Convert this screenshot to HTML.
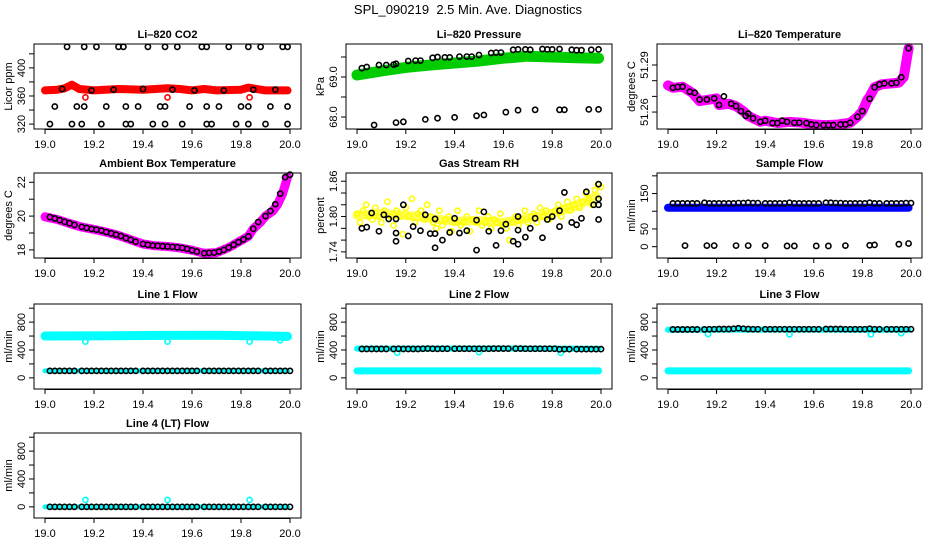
<!DOCTYPE html>
<html><head><meta charset="utf-8"><style>
html,body{margin:0;padding:0;background:#fff;}
svg{display:block;font-family:"Liberation Sans",Arial,sans-serif;}
</style></head><body>
<svg id="chart" width="936" height="540" viewBox="0 0 936 540" xmlns="http://www.w3.org/2000/svg">
<rect x="0" y="0" width="936" height="540" fill="#fff"/>
<text x="468" y="14" text-anchor="middle" font-size="13" style="white-space:pre" xml:space="preserve">SPL_090219  2.5 Min. Ave. Diagnostics</text>
</svg>
<script>
// ---------- shared x ticks ----------
const xTicks = [19.0, 19.2, 19.4, 19.6, 19.8, 20.0];
const T48 = [19.02,19.04,19.06,19.08,19.10,19.12,19.15,19.17,19.19,19.21,19.23,19.25,19.27,19.29,19.31,19.33,19.35,19.37,19.40,19.42,19.44,19.46,19.48,19.50,19.52,19.54,19.56,19.58,19.60,19.62,19.65,19.67,19.69,19.71,19.73,19.75,19.77,19.79,19.81,19.83,19.85,19.87,19.90,19.92,19.94,19.96,19.98,20.00];

// ---------- CO2 ----------
const co2TrendT = [19.0,19.05,19.08,19.11,19.14,19.2,19.3,19.4,19.5,19.55,19.6,19.65,19.7,19.8,19.83,19.9,19.99];
const co2TrendV = [368,369,371,376,370,368,370,369,371,370,368,370,368,369,372,368,368];
const co2BlackT = [19.09,19.16,19.21,19.30,19.32,19.42,19.49,19.54,19.64,19.66,19.75,19.83,19.88,19.97,19.99,
  19.04,19.13,19.16,19.25,19.33,19.38,19.47,19.49,19.59,19.66,19.71,19.80,19.83,19.92,19.99,
  19.02,19.11,19.15,19.23,19.33,19.35,19.44,19.49,19.56,19.66,19.68,19.78,19.83,19.90,19.99,
  19.07,19.19,19.28,19.40,19.52,19.61,19.73,19.85,19.94];
const co2BlackV = [430,430,430,430,430,430,430,430,430,430,430,430,430,430,430,
  345,345,345,345,345,345,345,345,345,345,345,345,345,345,345,
  320,320,320,320,320,320,320,320,320,320,320,320,320,320,320,
  370,368,369,370,369,368,368,369,369];
const co2OutT = [19.165,19.5,19.835];
const co2OutV = [358,358,358];

// ---------- Pressure ----------
const prTrendT = [19.0,19.1,19.2,19.3,19.4,19.5,19.6,19.7,19.8,19.9,19.99];
const prTrendV = [69.05,69.15,69.24,69.3,69.35,69.4,69.47,69.52,69.5,69.48,69.47];
const prBlackT = [19.02,19.04,19.09,19.12,19.15,19.16,19.21,19.24,19.26,19.31,19.33,19.36,19.38,19.42,19.45,19.47,19.50,19.55,19.57,19.59,19.64,19.66,19.69,19.71,19.76,19.78,19.80,19.83,19.88,19.90,19.92,19.96,19.99,
  19.07,19.16,19.19,19.28,19.33,19.40,19.49,19.52,19.61,19.66,19.73,19.83,19.85,19.95,19.99];
const prBlackV = [69.22,69.25,69.3,69.3,69.31,69.33,69.4,69.41,69.41,69.48,69.5,69.49,69.49,69.51,69.51,69.51,69.55,69.6,69.61,69.61,69.68,69.69,69.69,69.68,69.7,69.69,69.69,69.7,69.68,69.67,69.67,69.68,69.69,
  67.8,67.86,67.88,67.94,67.97,67.99,68.03,68.05,68.12,68.17,68.18,68.18,68.18,68.19,68.19];

// ---------- Li-820 temperature ----------
const ltT = [19.0,19.02,19.06,19.1,19.13,19.2,19.21,19.25,19.28,19.31,19.33,19.35,19.38,19.4,19.45,19.5,19.55,19.6,19.65,19.7,19.75,19.78,19.8,19.82,19.83,19.85,19.88,19.92,19.95,19.97,19.99];
const ltV = [51.277,51.2755,51.2762,51.2723,51.267,51.2687,51.2645,51.2653,51.2638,51.2606,51.2576,51.256,51.2538,51.2545,51.253,51.2538,51.2532,51.2521,51.2517,51.2521,51.2532,51.257,51.2606,51.2677,51.2698,51.2758,51.2777,51.2783,51.2787,51.2822,51.3007];
const ltBlackT = [19.02,19.04,19.06,19.09,19.11,19.13,19.16,19.19,19.21,19.23,19.26,19.28,19.30,19.32,19.33,19.35,19.38,19.40,19.43,19.45,19.47,19.49,19.52,19.54,19.57,19.59,19.61,19.64,19.66,19.68,19.71,19.73,19.75,19.78,19.80,19.83,19.85,19.87,19.89,19.92,19.94,19.96,19.99];
const ltBlackV = [51.2755,51.276,51.2762,51.273,51.2723,51.268,51.268,51.2687,51.2645,51.27,51.2653,51.2638,51.2606,51.2576,51.259,51.256,51.2538,51.2545,51.253,51.253,51.2545,51.2538,51.2532,51.2532,51.253,51.2521,51.2517,51.2517,51.2517,51.2517,51.2521,51.2521,51.2532,51.257,51.2606,51.2685,51.2758,51.2777,51.2783,51.2783,51.2787,51.2822,51.3007];

// ---------- Ambient box temperature ----------
const abT = [19.0,19.05,19.1,19.15,19.2,19.25,19.3,19.35,19.4,19.45,19.5,19.55,19.6,19.65,19.7,19.75,19.8,19.83,19.85,19.88,19.9,19.93,19.95,19.97,19.99];
const abV = [19.96,19.8,19.56,19.35,19.21,19.05,18.85,18.6,18.35,18.24,18.2,18.12,17.98,17.8,17.84,18.14,18.55,18.8,19.25,19.65,20.0,20.3,20.7,21.33,22.3];
const abBlackT = [19.02,19.04,19.06,19.08,19.10,19.12,19.15,19.17,19.19,19.21,19.23,19.25,19.27,19.29,19.31,19.33,19.35,19.37,19.40,19.42,19.44,19.46,19.48,19.50,19.52,19.54,19.56,19.58,19.60,19.62,19.65,19.67,19.69,19.71,19.73,19.75,19.77,19.79,19.81,19.83,19.85,19.87,19.90,19.92,19.94,19.96,19.98,20.00];
const abBlackV = [19.94,19.86,19.76,19.66,19.58,19.48,19.36,19.3,19.24,19.2,19.14,19.06,18.98,18.9,18.82,18.7,18.6,18.48,18.35,18.3,18.26,18.24,18.22,18.2,18.18,18.15,18.12,18.06,17.98,17.9,17.8,17.82,17.84,17.9,18.0,18.14,18.3,18.46,18.62,18.8,19.25,19.65,20.0,20.3,20.7,21.33,22.3,22.45];

// ---------- Gas stream RH ----------
const rhStart = 19.0;
const rhStep = 0.0125;
const rhV = [1.805,1.79,1.81,1.82,1.80,1.795,1.815,1.80,1.79,1.81,1.825,1.80,1.785,1.81,1.80,1.77,1.815,1.80,1.83,1.79,1.805,1.81,1.795,1.82,1.80,
  1.79,1.78,1.81,1.785,1.795,1.80,1.775,1.79,1.81,1.785,1.79,1.80,1.775,1.795,1.79,1.81,1.785,1.79,1.80,1.78,1.795,1.79,1.805,1.785,
  1.78,1.76,1.79,1.80,1.785,1.795,1.81,1.79,1.80,1.805,1.79,1.815,1.80,1.81,1.795,1.80,
  1.81,1.82,1.80,1.815,1.825,1.81,1.82,1.83,1.815,1.825,1.84,1.83,1.82,1.845,1.855,1.85];
const rhTrendT = [19.0,19.1,19.2,19.3,19.4,19.5,19.6,19.7,19.8,19.9,19.98];
const rhTrendV = [1.802,1.805,1.802,1.797,1.792,1.793,1.79,1.797,1.805,1.818,1.835];
const rhBlackT = [19.02,19.04,19.06,19.09,19.11,19.13,19.16,19.16,19.16,19.19,19.21,19.23,19.26,19.28,19.30,19.32,19.32,19.32,19.35,19.38,19.40,19.42,19.45,
  19.49,19.49,19.52,19.54,19.57,19.59,19.61,19.64,19.66,19.66,19.66,19.69,19.71,19.73,19.76,19.78,19.80,19.83,19.83,19.85,19.88,19.90,19.92,19.94,19.97,19.99,19.99,19.99,19.99];
const rhBlackV = [1.78,1.782,1.806,1.775,1.803,1.796,1.796,1.772,1.758,1.82,1.767,1.783,1.776,1.803,1.771,1.796,1.771,1.747,1.76,1.773,1.797,1.772,1.776,
  1.794,1.743,1.808,1.775,1.751,1.776,1.787,1.758,1.777,1.753,1.800,1.765,1.78,1.797,1.764,1.795,1.80,1.81,1.783,1.841,1.79,1.786,1.797,1.842,1.82,1.82,1.855,1.83,1.795];

// ---------- Sample flow ----------
const sfTrendT = [19.0,19.25,19.5,19.75,19.99];
const sfTrendV = [110,110,110,110,110];
const sfBlackV = [122,122,122,122,122,122,124,122,122,122,122,122,122,123,123,124,123,123,122,122,122,122,122,124,122,122,122,122,122,122,124,124,123,123,122,122,122,122,122,124,122,122,122,122,122,122,123,123];
const sfLowT = [19.07,19.16,19.19,19.28,19.33,19.40,19.49,19.52,19.61,19.66,19.73,19.83,19.85,19.95,19.99];
const sfLowV = [3,3,3,3,3,3,2,2,2,2,3,4,5,7,9];

// ---------- Line flows ----------
const l1BandT = [19.0,19.3,19.5,19.7,19.9,19.99];
const l1BandV = [600,605,610,612,600,595];
const l1LowT = [19.0,19.5,19.99];
const l1LowV = [100,100,100];
const l1BlackV = [100,100,100,100,100,100,100,100,100,100,100,100,100,100,100,100,100,100,100,100,100,100,100,100,100,100,100,100,100,100,100,100,100,100,100,100,100,100,100,100,100,100,100,100,100,100,100,100];
const l1OutT = [19.165,19.5,19.835,19.96];
const l1OutV = [520,520,520,540];

const l2BandT = [19.0,19.5,19.99];
const l2BandV = [420,422,418];
const l2LowV = [100,100,100];
const l2BlackV = [415,415,415,415,415,415,415,418,415,415,415,415,418,420,418,416,418,418,418,418,418,418,418,418,418,418,420,420,420,420,420,420,418,418,418,418,418,418,418,410,412,412,412,412,412,412,412,412];
const l2OutT = [19.165,19.5,19.835];
const l2OutV = [360,370,360];

const l3BandT = [19.0,19.5,19.99];
const l3BandV = [690,692,690];
const l3LowV = [100,100,100];
const l3BlackV = [695,695,695,695,695,695,695,698,698,700,700,700,705,712,705,700,698,698,698,698,698,698,698,698,698,698,698,698,698,698,700,700,700,700,698,698,698,698,698,705,698,698,698,698,698,698,698,698];
const l3OutT = [19.165,19.5,19.835,19.96];
const l3OutV = [630,625,625,640];

const l4BandV = [0,0,0];
const l4BlackV = [0,0,0,0,0,0,0,0,0,0,0,0,0,0,0,0,0,0,0,0,0,0,0,0,0,0,0,0,0,0,0,0,0,0,0,0,0,0,0,0,0,0,0,0,0,0,0,0];
const l4OutT = [19.165,19.5,19.835];
const l4OutV = [100,100,100];

const flowTicks = [0,200,400,600,800,1000];
const flowLabels = ['0','','400','','800',''];

// ---------- drawing ----------
const NS = 'http://www.w3.org/2000/svg';
const svg = document.getElementById('chart');
const colLeft = [34, 346, 657];
const colWidth = [267, 266, 265];
const rowTop = [44, 173, 304, 433];
const boxH = 85;

function mk(tag, attrs, parent) {
  const e = document.createElementNS(NS, tag);
  for (const k in attrs) e.setAttribute(k, attrs[k]);
  parent.appendChild(e);
  return e;
}

function makePanel(col, row, name, title, ylabel, ylim, yTicks, yLabels) {
  const L = colLeft[col], W = colWidth[col], T = rowTop[row];
  const g = mk('g', {}, svg);
  
  
  const xs = t => L + 11 + (t - 19) * (W - 22);
  const ys = v => T + boxH - (v - ylim[0]) / (ylim[1] - ylim[0]) * boxH;
  const marks = mk('g', {}, g);
  
  
  const box = mk('rect', {x: L, y: T, width: W, height: boxH, fill: 'none', stroke: '#000', 'stroke-width': 1}, g);
  
  
  const ttl = mk('text', {x: L + W / 2, y: T - 6, 'text-anchor': 'middle', 'font-size': 11, 'font-weight': 'bold'}, g);
  ttl.textContent = title;
  
  
  const xa = mk('g', {}, g);
  
  
  mk('line', {x1: xs(19), x2: xs(20), y1: T + boxH + 0.5, y2: T + boxH + 0.5, stroke: '#000'}, xa);
  xTicks.forEach(t => {
    mk('line', {x1: xs(t), x2: xs(t), y1: T + boxH, y2: T + boxH + 5, stroke: '#000'}, xa);
    const lb = mk('text', {x: xs(t), y: T + boxH + 19, 'text-anchor': 'middle', 'font-size': 11}, xa);
    lb.textContent = t.toFixed(1);
    
    
  });
  const ya = mk('g', {}, g);
  
  
  yTicks.forEach((v, i) => {
    mk('line', {x1: L - 5, x2: L, y1: ys(v), y2: ys(v), stroke: '#000'}, ya);
    if (yLabels[i]) {
      const lb = mk('text', {x: L - 9, y: ys(v), 'text-anchor': 'middle', 'font-size': 11, transform: 'rotate(-90 ' + (L - 9) + ' ' + ys(v) + ')'}, ya);
      lb.textContent = yLabels[i];
      
      
    }
  });
  const yl = mk('text', {x: L - 22, y: T + boxH / 2, 'text-anchor': 'middle', 'font-size': 11, transform: 'rotate(-90 ' + (L - 22) + ' ' + (T + boxH / 2) + ')'}, g);
  yl.textContent = ylabel;
  
  
  return {xs, ys, marks};
}

function band(p, ts, vs, color, width, nm, op) {
  const pts = ts.map((t, i) => p.xs(t).toFixed(1) + ',' + p.ys(vs[i]).toFixed(1)).join(' ');
  const e = mk('polyline', {points: pts, fill: 'none', stroke: color, 'stroke-width': width, 'stroke-linejoin': 'round', 'stroke-linecap': 'round', 'stroke-opacity': op || 1}, p.marks);
  
  
}
function dots(p, ts, vs, color, nm) {
  ts.forEach((t, i) => {
    const c = mk('circle', {cx: p.xs(t), cy: p.ys(vs[i]), r: 2.6, fill: 'none', stroke: color, 'stroke-width': 1.6}, p.marks);
    
    
  });
}

// Panel 1 CO2
let p = makePanel(0, 0, 'co2', 'Li\u2013820 CO2', 'Licor ppm', [313, 434], [320,340,360,380,400,420], ['320','','360','','400','']);
band(p, co2TrendT, co2TrendV, '#ff0000', 8, 'co2-series-band');
dots(p, co2OutT, co2OutV, '#ff0000', 'co2-outlier-point');
dots(p, co2BlackT, co2BlackV, '#000', 'co2-ave-point');

// Panel 2 Pressure
p = makePanel(1, 0, 'pressure', 'Li\u2013820 Pressure', 'kPa', [67.7, 69.825], [68.0,68.5,69.0,69.5], ['68.0','','69.0','']);
band(p, prTrendT, prTrendV, '#00cc00', 11, 'pressure-series-band');
dots(p, prBlackT, prBlackV, '#000', 'pressure-ave-point');

// Panel 3 Li-820 temp
p = makePanel(2, 0, 'licor-temp', 'Li\u2013820 Temperature', 'degrees C', [51.2492, 51.3034], [51.26,51.27,51.28,51.29], ['51.26','','','51.29']);
band(p, ltT, ltV, '#ff00ff', 10, 'licor-temp-series-band');
dots(p, ltBlackT, ltBlackV, '#000', 'licor-temp-ave-point');

// Panel 4 ambient
p = makePanel(0, 1, 'ambient-temp', 'Ambient Box Temperature', 'degrees C', [17.52, 22.55], [18,19,20,21,22], ['18','','20','','22']);
band(p, abT, abV, '#ff00ff', 9, 'ambient-temp-series-band');
dots(p, abBlackT, abBlackV, '#000', 'ambient-temp-ave-point');

// Panel 5 RH
p = makePanel(1, 1, 'gas-rh', 'Gas Stream RH', 'percent', [1.7296, 1.874], [1.74,1.76,1.78,1.80,1.82,1.84,1.86], ['1.74','','','1.80','','','1.86']);
band(p, rhTrendT, rhTrendV, '#ffff00', 9, 'gas-rh-series-band', 0.7);
dots(p, rhV.map((v, i) => rhStart + i * rhStep), rhV, '#ffff00', 'gas-rh-point');
dots(p, rhBlackT, rhBlackV, '#000', 'gas-rh-ave-point');

// Panel 6 Sample flow
p = makePanel(2, 1, 'sample-flow', 'Sample Flow', 'ml/min', [-32, 208], [0,50,100,150,200], ['0','50','','150','']);
band(p, sfTrendT, sfTrendV, '#0000ff', 8, 'sample-flow-series-band');
dots(p, T48, sfBlackV, '#000', 'sample-flow-ave-point');
dots(p, sfLowT, sfLowV, '#000', 'sample-flow-low-point');

// Line 1
p = makePanel(0, 2, 'line1-flow', 'Line 1 Flow', 'ml/min', [-160, 1060], flowTicks, flowLabels);
band(p, l1BandT, l1BandV, '#00ffff', 9, 'line1-flow-series-band');
band(p, l1LowT, l1LowV, '#00ffff', 5, 'line1-flow-low-band');
dots(p, l1OutT, l1OutV, '#00ffff', 'line1-flow-outlier');
dots(p, T48, l1BlackV, '#000', 'line1-flow-ave-point');

// Line 2
p = makePanel(1, 2, 'line2-flow', 'Line 2 Flow', 'ml/min', [-160, 1060], flowTicks, flowLabels);
band(p, l2BandT, l2BandV, '#00ffff', 6, 'line2-flow-series-band');
band(p, l1LowT, l2LowV, '#00ffff', 7, 'line2-flow-low-band');
dots(p, l2OutT, l2OutV, '#00ffff', 'line2-flow-outlier');
dots(p, T48, l2BlackV, '#000', 'line2-flow-ave-point');

// Line 3
p = makePanel(2, 2, 'line3-flow', 'Line 3 Flow', 'ml/min', [-160, 1060], flowTicks, flowLabels);
band(p, l3BandT, l3BandV, '#00ffff', 6, 'line3-flow-series-band');
band(p, l1LowT, l3LowV, '#00ffff', 7, 'line3-flow-low-band');
dots(p, l3OutT, l3OutV, '#00ffff', 'line3-flow-outlier');
dots(p, T48, l3BlackV, '#000', 'line3-flow-ave-point');

// Line 4
p = makePanel(0, 3, 'line4-flow', 'Line 4 (LT) Flow', 'ml/min', [-160, 1060], flowTicks, flowLabels);
band(p, l1LowT, l4BandV, '#00ffff', 5, 'line4-flow-series-band');
dots(p, l4OutT, l4OutV, '#00ffff', 'line4-flow-outlier');
dots(p, T48, l4BlackV, '#000', 'line4-flow-ave-point');
</script>
</body></html>
